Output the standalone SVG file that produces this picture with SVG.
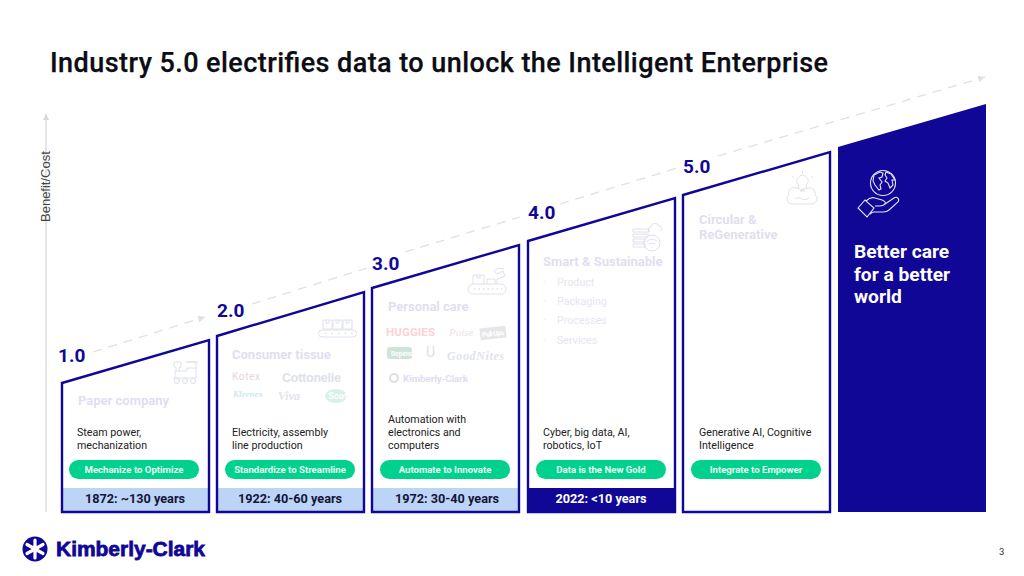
<svg xmlns="http://www.w3.org/2000/svg" width="1024" height="576" viewBox="0 0 1024 576">
<style>
text{font-family:Roboto,"Liberation Sans",sans-serif}
.card{fill:none;stroke:#100796;stroke-width:2.4}
.band{fill:#bcd4f5}
.ver{font-size:19px;font-weight:700;fill:#100796}
.head{font-size:13px;font-weight:700;fill:#dfdfef}
.body{font-size:10.7px;fill:#222}
.pill{fill:#00d18c}
.pilltx{font-size:9.6px;font-weight:700;fill:#e8fff6;text-anchor:middle}
.yr{font-size:12.7px;font-weight:700;fill:#14143a;text-anchor:middle}
.dash{fill:none;stroke:#e0e0e0;stroke-width:1.3;stroke-dasharray:9 7}
.bul{font-size:10.7px;fill:#e6e6f0}
.ic{fill:none;stroke:#e0e0ee;stroke-width:1}
.icw{fill:none;stroke:#e6e6f8;stroke-width:1.1}
.lg{font-weight:700}
.sf{font-family:"Liberation Serif",serif;font-style:italic}
</style>
<defs>
<marker id="ah" markerUnits="userSpaceOnUse" markerWidth="9" markerHeight="8" refX="7" refY="3.5" orient="auto"><path d="M0 0L7 3.5L0 7Z" fill="#e0e0e0"/></marker>
<marker id="ah2" markerUnits="userSpaceOnUse" markerWidth="8" markerHeight="8" refX="6" refY="3" orient="auto"><path d="M0 0L6 3L0 6Z" fill="#d8d8d8"/></marker>
</defs>
<rect width="1024" height="576" fill="#fff"/>
<text x="50" y="72" font-size="27" font-weight="500" fill="#0c0c14" id="title" stroke="#0c0c14" stroke-width=".25" textLength="778" lengthAdjust="spacing">Industry 5.0 electrifies data to unlock the Intelligent Enterprise</text>

<g id="connectors">
<path class="dash" d="M93 352L205 317" marker-end="url(#ah)"/>
<path class="dash" d="M252 304L367 268"/>
<path class="dash" d="M405 252L520 217"/>
<path class="dash" d="M560 204L677 168"/>
<path class="dash" d="M718 156L985 77" marker-end="url(#ah)"/>
<path d="M46 512V114" fill="none" stroke="#dcdcdc" stroke-width="1.5" marker-end="url(#ah2)"/>
</g>
<text id="axis-label" transform="translate(50 222) rotate(-90)" font-size="13" fill="#444" style="font-family:'Liberation Sans',sans-serif">Benefit/Cost</text>

<g id="card-1">
<path class="band" d="M62 488H209V512H62Z"/>
<path class="card" d="M62 383L209 340V512H62Z"/>
<text class="ver" x="58" y="362">1.0</text>
<path class="ic" d="M173 378h24M175 378v-7h12v-3h9v10M176 371v-4h-2v-5h7v5h-2v4M187 362h9v6M185 362h13"/><circle class="ic" cx="177" cy="381" r="2.6"/><circle class="ic" cx="185" cy="381" r="2.6"/><circle class="ic" cx="193" cy="381" r="2.6"/>
<text class="head" x="78" y="405">Paper company</text>
<text class="body" x="77" y="436">Steam power,</text>
<text class="body" x="77" y="449">mechanization</text>
<rect class="pill" x="69" y="460" width="130" height="19" rx="9.5"/>
<text class="pilltx" x="134" y="473">Mechanize to Optimize</text>
<text class="yr" x="135" y="503">1872: ~130 years</text>
</g>

<g id="card-2">
<path class="band" d="M217 488H364V512H217Z"/>
<path class="card" d="M217 336L364 292V512H217Z"/>
<text class="ver" x="217" y="317">2.0</text>
<path class="ic" d="M323 320h9v9h-9zM333 320h9v9h-9zM343 320h9v9h-9zM326 320v3h3v-3M336 320v3h3v-3M346 320v3h3v-3M323 330h30a3.5 3.5 0 0 1 0 7h-31a3.5 3.5 0 0 1 0-7z"/>
<path d="M325 333.500h28" stroke="#e0e0ee" stroke-width="1.6" stroke-dasharray="1.5 5" fill="none"/>
<text class="head" x="232" y="359">Consumer tissue</text>
<text x="232" y="380" font-size="10" fill="#e6d6e0" textLength="28">Kotex</text>
<text class="lg" x="282" y="382" font-size="12.500" fill="#dde1e8" style="font-family:'Liberation Sans',sans-serif" textLength="59">Cottonelle</text>
<text class="sf lg" x="233" y="397" font-size="9" fill="#d3e6f2">Kleenex</text>
<text class="sf lg" x="278" y="400" font-size="12" fill="#e4e4ea">Viva</text>
<ellipse cx="336" cy="396" rx="11" ry="7" fill="#d8f0e8"/>
<text class="lg" x="328" y="399" font-size="9.5" fill="#fff">Scott</text>
<text class="body" x="232" y="436">Electricity, assembly</text>
<text class="body" x="232" y="449">line production</text>
<rect class="pill" x="225" y="460" width="130" height="19" rx="9.5"/>
<text class="pilltx" x="290" y="473">Standardize to Streamline</text>
<text class="yr" x="290" y="503">1922: 40-60 years</text>
</g>

<g id="card-3">
<path class="band" d="M372 488H519V512H372Z"/>
<path class="card" d="M372 288L519 245V512H372Z"/>
<text class="ver" x="372" y="270">3.0</text>
<path class="ic" d="M473 284v-9h11v9M477 275v3h3v-3M487 284v-5h8v5M497 284v-5l8-3-2-5-6 3-3-3 4-3 6 1M473 284h28a5 5 0 0 1 0 10h-28a5 5 0 0 1 0-10z"/>
<path d="M474 289h28" stroke="#e0e0ee" stroke-width="1.6" stroke-dasharray="1.5 3" fill="none"/>
<text class="head" x="388" y="311">Personal care</text>
<text class="lg" x="386" y="336" font-size="11.5" fill="#fbd3d3" textLength="49">HUGGIES</text>
<text class="sf" x="449" y="336" font-size="11" fill="#efdfe6">Poise</text>
<rect x="480" y="327" width="26" height="12" fill="#e6e6e9" transform="rotate(-6 493 333)"/>
<text class="lg" x="482" y="336" font-size="7" fill="#fff" transform="rotate(-6 493 333)" textLength="22">Pull-Ups</text>
<rect x="387" y="347" width="25" height="12" rx="3" fill="#cfe4d8"/>
<text class="lg" x="391" y="356" font-size="6.5" fill="#fff">Depend</text>
<text x="426" y="357" font-size="14" fill="#e0e0e0">U</text>
<text class="lg sf" x="447" y="360" font-size="12" fill="#dfe3ee" textLength="57">GoodNites</text>
<circle cx="394" cy="378" r="4" fill="none" stroke="#dedee8" stroke-width="2"/>
<text class="lg" x="403" y="382" font-size="9.800" fill="#dedef0" textLength="65">Kimberly-Clark</text>
<text class="body" x="388" y="423">Automation with</text>
<text class="body" x="388" y="436">electronics and</text>
<text class="body" x="388" y="449">computers</text>
<rect class="pill" x="380" y="460" width="130" height="19" rx="9.5"/>
<text class="pilltx" x="445" y="473">Automate to Innovate</text>
<text class="yr" x="447" y="503">1972: 30-40 years</text>
</g>

<g id="card-4">
<path d="M528 488H675V512H528Z" fill="#100796"/>
<path class="card" d="M528 241L675 198V512H528Z"/>
<text class="ver" x="528" y="219">4.0</text>
<path class="ic" d="M633 229h16v3h-16zM633 234h15v3h-15zM633 239h12v3h-12zM633 244h12v3h-12zM650 232c-3-1-2-5 1-5 0-4 6-5 8-1 3 0 4 4 1 5"/><circle class="ic" cx="652" cy="243" r="8"/>
<path class="ic" d="M647 241c3-2 7-2 10 0M649 244c2-1 4-1 6 0M652 247v1"/>
<text class="head" x="543" y="266">Smart &amp; Sustainable</text>
<g class="bul"><text x="543" y="286">·</text><text x="557" y="286">Product</text><text x="543" y="305">·</text><text x="557" y="305">Packaging</text><text x="543" y="324">·</text><text x="557" y="324">Processes</text><text x="543" y="344">·</text><text x="557" y="344">Services</text></g>
<text class="body" x="543" y="436">Cyber, big data, AI,</text>
<text class="body" x="543" y="449">robotics, IoT</text>
<rect class="pill" x="536" y="460" width="130" height="19" rx="9.5"/>
<text class="pilltx" x="601" y="473">Data is the New Gold</text>
<text class="yr" x="601" y="503" style="fill:#fff">2022: &lt;10 years</text>
</g>

<g id="card-5">
<path class="card" d="M683 195L830 152V512H683Z"/>
<text class="ver" x="683" y="173">5.0</text>
<path class="ic" d="M793 204c-6 0-8-6-4-9-2-5 3-9 8-7 3 1 4 2 5 3 1-1 3-3 6-3 5-1 8 3 7 7 4 3 2 9-4 9zM798 189c1-2 1-4 0-5a5.500 5.500 0 1 1 9 0c-1 1-1 3 0 5M801 192v-3h3v3M792 176l2 2M813 176l-2 2M802.500 171v3M795 199c3-2 5-1 7 0s4 1 7-1"/>
<text class="head" x="699" y="224">Circular &amp;</text>
<text class="head" x="699" y="239">ReGenerative</text>
<text class="body" x="699" y="436">Generative AI, Cognitive</text>
<text class="body" x="699" y="449">Intelligence</text>
<rect class="pill" x="691" y="460" width="130" height="19" rx="9.5"/>
<text class="pilltx" x="756" y="473">Integrate to Empower</text>
</g>

<g id="card-6">
<path d="M838 147L986 104V512H838Z" fill="#100796"/>
<circle class="icw" cx="883" cy="183" r="12.5"/>
<path class="icw" d="M874 175l6-3 3 1-1 4-3 1 3 4-2 3 1 4-2 1-4-5-2-4zM886 172l5 2 4 6-3 0 1 5-3 3-2-5-3-2 2-3-2-3z" stroke-width=".9"/>
<path class="icw" d="M858 208l7-8 9 8-7 9zM866 201c3-3 6-4 9-3l7 2c3 1 4 3 3 4s-3 2-5 2h-5M885 204l9-6c3-2 6 1 4 4l-9 8c-2 2-4 2-6 2h-9c-2 0-3 1-4 2"/>
<text x="854" y="258" font-size="19.200" font-weight="700" fill="#fff">Better care</text>
<text x="854" y="281" font-size="19.200" font-weight="700" fill="#fff">for a better</text>
<text x="854" y="303" font-size="19.200" font-weight="700" fill="#fff">world</text>
</g>

<g id="logo">
<circle cx="35" cy="549" r="12.500" fill="#100796"/>
<path d="M35 540v18M27 544.500l16 9M43 544.500l-16 9" stroke="#fff" stroke-width="3.200" stroke-linecap="round"/>
<circle cx="35" cy="549" r="3.500" fill="#fff"/>
<text x="56" y="556" font-size="21" font-weight="700" fill="#100796" stroke="#100796" stroke-width=".8" style="font-family:'Liberation Sans',sans-serif" textLength="149" lengthAdjust="spacingAndGlyphs">Kimberly-Clark</text>
</g>
<text id="page" x="999" y="555" font-size="9.5" fill="#333">3</text>
</svg>
